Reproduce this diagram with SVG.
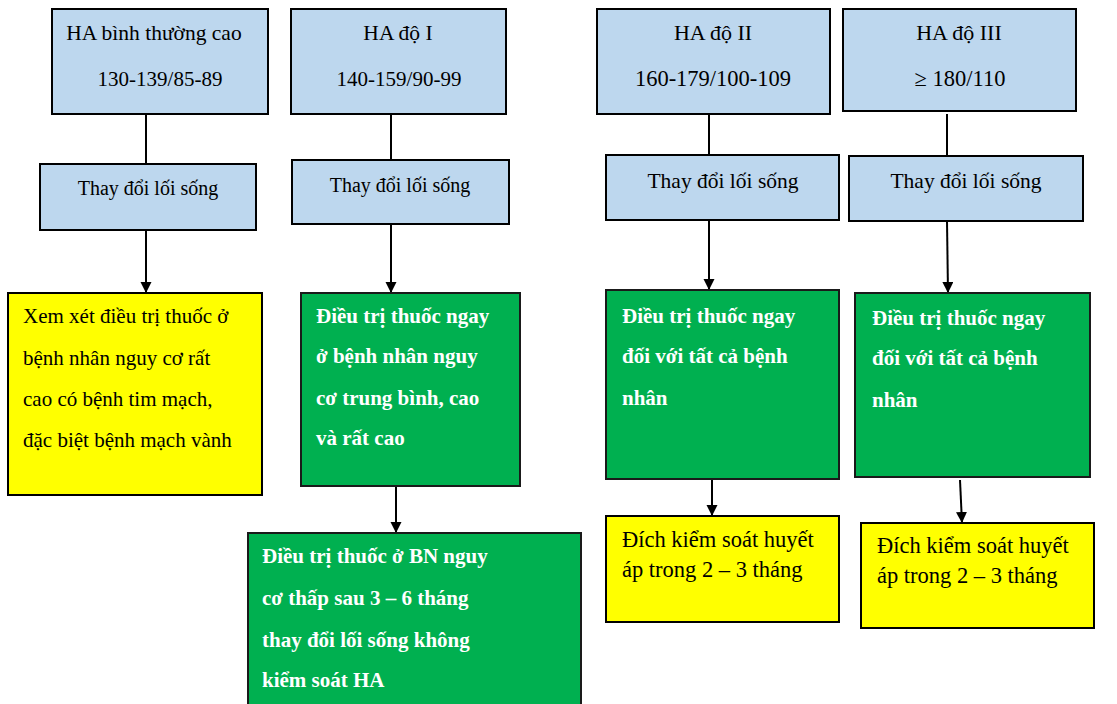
<svg xmlns="http://www.w3.org/2000/svg" width="1117" height="704" viewBox="0 0 1117 704" font-family="'Liberation Serif', 'Times New Roman', 'DejaVu Serif', serif">
<defs>
<marker id="ah" markerWidth="12" markerHeight="12" refX="11" refY="5.5" orient="auto" markerUnits="userSpaceOnUse"><path d="M0,0 L11,5.5 L0,11 z" fill="#000"/></marker>
<style>
.blue{fill:#BDD7EE;stroke:#000;stroke-width:2}
.green{fill:#00B050;stroke:#1a1a1a;stroke-width:2}
.yellow{fill:#FFFF00;stroke:#000;stroke-width:2}
text{font-family:'Liberation Serif','Times New Roman','DejaVu Serif',serif;fill:#000}
.c{text-anchor:middle}
.w{fill:#fff;font-weight:bold;font-size:21px}
.b{font-size:21px}
.conn line{stroke:#000;stroke-width:2}
</style>
</defs>
<rect width="1117" height="704" fill="#fff"/>
<g class="conn">
<line x1="146" y1="114" x2="146" y2="164"/>
<line x1="146" y1="230" x2="146" y2="293" marker-end="url(#ah)"/>
<line x1="391" y1="114" x2="391" y2="160"/>
<line x1="391" y1="224" x2="391" y2="293" marker-end="url(#ah)"/>
<line x1="709" y1="114" x2="709" y2="155"/>
<line x1="709" y1="220" x2="709" y2="290" marker-end="url(#ah)"/>
<line x1="947" y1="114" x2="947" y2="156"/>
<line x1="947" y1="221" x2="948" y2="293" marker-end="url(#ah)"/>
<line x1="396" y1="486" x2="396" y2="533" marker-end="url(#ah)"/>
<line x1="712" y1="479" x2="712" y2="516" marker-end="url(#ah)"/>
<line x1="960" y1="480" x2="962" y2="523" marker-end="url(#ah)"/>
</g>
<g id="ha-binh-thuong-cao">
<rect class="blue" x="52" y="9" width="216" height="105"/>
<text class="c" x="154" y="40" font-size="21.5">HA bình thường cao</text>
<text class="c" x="160" y="86" font-size="21">130-139/85-89</text>
</g>
<g id="ha-do-1">
<rect class="blue" x="291" y="9" width="215" height="105"/>
<text class="c" x="398" y="40" font-size="21.5">HA độ I</text>
<text class="c" x="399" y="86" font-size="21">140-159/90-99</text>
</g>
<g id="ha-do-2">
<rect class="blue" x="597" y="9" width="233" height="105"/>
<text class="c" x="713" y="40" font-size="22">HA độ II</text>
<text class="c" x="713" y="86" font-size="22.5">160-179/100-109</text>
</g>
<g id="ha-do-3">
<rect class="blue" x="843" y="9" width="233" height="102"/>
<text class="c" x="959" y="40" font-size="22">HA độ III</text>
<text class="c" x="960" y="86" font-size="22.5">≥ 180/110</text>
</g>
<g id="lifestyle-1">
<rect class="blue" x="40" y="164" width="216" height="66"/>
<text class="c" x="148" y="195" font-size="20">Thay đổi lối sống</text>
</g>
<g id="lifestyle-2">
<rect class="blue" x="292" y="160" width="217" height="64"/>
<text class="c" x="400" y="192" font-size="20">Thay đổi lối sống</text>
</g>
<g id="lifestyle-3">
<rect class="blue" x="606" y="155" width="233" height="65"/>
<text class="c" x="723" y="188" font-size="21.5">Thay đổi lối sống</text>
</g>
<g id="lifestyle-4">
<rect class="blue" x="849" y="156" width="234" height="65"/>
<text class="c" x="966" y="188" font-size="21.5">Thay đổi lối sống</text>
</g>
<g id="xem-xet">
<rect class="yellow" x="8" y="293" width="254" height="202"/>
<text class="b" x="23" y="323">Xem xét điều trị thuốc ở</text>
<text class="b" x="23" y="365">bệnh nhân nguy cơ rất</text>
<text class="b" x="23" y="406">cao có bệnh tim mạch,</text>
<text class="b" x="23" y="447">đặc biệt bệnh mạch vành</text>
</g>
<g id="dieu-tri-ngay-1">
<rect class="green" x="301" y="293" width="219" height="193"/>
<text class="w" x="316" y="323">Điều trị thuốc ngay</text>
<text class="w" x="316" y="363">ở bệnh nhân nguy</text>
<text class="w" x="316" y="405">cơ trung bình, cao</text>
<text class="w" x="316" y="445">và rất cao</text>
</g>
<g id="dieu-tri-bn">
<rect class="green" x="248" y="533" width="333" height="180"/>
<text class="w" x="262" y="563">Điều trị thuốc ở BN nguy</text>
<text class="w" x="262" y="605">cơ thấp sau 3 – 6 tháng</text>
<text class="w" x="262" y="647">thay đổi lối sống không</text>
<text class="w" x="262" y="687">kiểm soát HA</text>
</g>
<g id="dieu-tri-ngay-2">
<rect class="green" x="606" y="290" width="233" height="189"/>
<text class="w" x="622" y="323">Điều trị thuốc ngay</text>
<text class="w" x="622" y="363">đối với tất cả bệnh</text>
<text class="w" x="622" y="405">nhân</text>
</g>
<g id="dieu-tri-ngay-3">
<rect class="green" x="855" y="293" width="235" height="184"/>
<text class="w" x="872" y="325">Điều trị thuốc ngay</text>
<text class="w" x="872" y="365">đối với tất cả bệnh</text>
<text class="w" x="872" y="407">nhân</text>
</g>
<g id="dich-1">
<rect class="yellow" x="606" y="516" width="233" height="106"/>
<text x="622" y="547" font-size="22.5">Đích kiểm soát huyết</text>
<text x="622" y="577" font-size="22.5">áp trong 2 – 3 tháng</text>
</g>
<g id="dich-2">
<rect class="yellow" x="861" y="523" width="233" height="105"/>
<text x="877" y="553" font-size="22.5">Đích kiểm soát huyết</text>
<text x="877" y="583" font-size="22.5">áp trong 2 – 3 tháng</text>
</g>
</svg>
